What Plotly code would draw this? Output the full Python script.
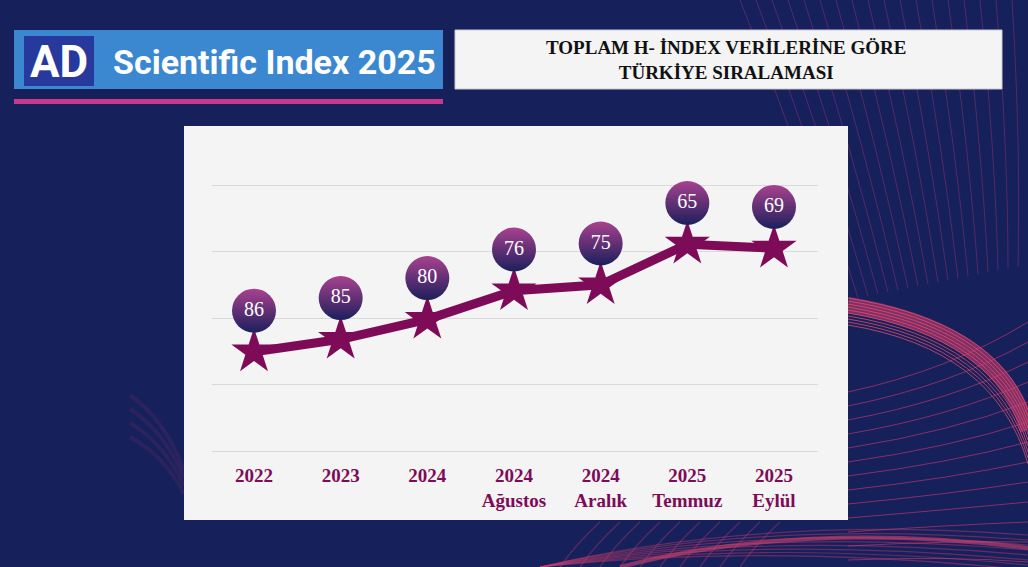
"""
AD Scientific Index 2025 - Türkiye ranking by total h-index.
Line of ranks with star markers and round rank badges above each point.
"""

import plotly.graph_objects as go

# ---------------------------------------------------------------------------
# Data
# ---------------------------------------------------------------------------
periods = ["2022", "2023", "2024", "2024<br>Ağustos", "2024<br>Aralık",
           "2025<br>Temmuz", "2025<br>Eylül"]
# vertical level of each point as drawn (gridline units, 0..4)
levels = [1.49, 1.68, 1.98, 2.41, 2.50, 3.11, 3.05]
ranks = [86, 85, 80, 76, 75, 65, 69]

W, H = 1028, 567
BG = "#16205a"
WINE = "#7e0b57"
PANEL = "#f4f4f4"

# plot area in pixels (a little padding so the 0 and 4 gridlines are drawn)
PL, PR, PT, PB = 212, 818, 179, 457
Y0_PX, Y4_PX = 451, 185           # where level 0 and level 4 sit


def px(x, y):
    """figure pixel -> paper coords (paper = plot area in plotly)"""
    return (x - PL) / (PR - PL), (PB - y) / (PB - PT)


def rect(x0, y0, x1, y1, **kw):
    a, b = px(x0, y0)
    c, d = px(x1, y1)
    return dict(type="rect", xref="paper", yref="paper", x0=a, y0=d, x1=c, y1=b, **kw)


def curve(pts, color, width, opacity):
    p = [px(x, y) for x, y in pts]
    d = f"M {p[0][0]},{p[0][1]} Q {p[1][0]},{p[1][1]} {p[2][0]},{p[2][1]}"
    return dict(type="path", xref="paper", yref="paper", path=d,
                line=dict(color=color, width=width), opacity=opacity, layer="below")


def label(text, x, y, size, family, color, xanchor="center"):
    a, b = px(x, y)
    return dict(text=text, x=a, y=b, xref="paper", yref="paper",
                xanchor=xanchor, yanchor="middle", showarrow=False,
                font=dict(family=family, size=size, color=color))


xs = list(range(len(periods)))

fig = go.Figure()

# connecting line + stars
fig.add_trace(go.Scatter(
    x=xs, y=levels,
    mode="lines+markers",
    line=dict(color=WINE, width=9),
    marker=dict(symbol="star", size=34, color=WINE, line=dict(width=0)),
    hoverinfo="skip",
    showlegend=False,
    cliponaxis=False,
))

# rank badges
fig.add_trace(go.Scatter(
    x=xs, y=[v + 0.62 for v in levels],
    mode="markers+text",
    marker=dict(symbol="circle", size=44, color="#a8428f",
                gradient=dict(type="vertical", color="#1c1f5c"),
                line=dict(width=0)),
    text=[str(r) for r in ranks],
    textposition="middle center",
    textfont=dict(family="Liberation Serif, serif", size=20, color="white"),
    hoverinfo="skip",
    showlegend=False,
    cliponaxis=False,
))

# ---------------------------------------------------------------------------
# Decoration (background waves, header, panels)
# ---------------------------------------------------------------------------
shapes = []

# thin lines falling from the top right
for i in range(18):
    shapes.append(curve([(740 + i * 16, 0), (800 + i * 13, 150), (848 + i * 10, 300 - i * 2)],
                        "#b13a78", 1, 0.4))
# wireframe lines to the right of the panel
for i in range(13):
    y0 = 392 + i * 14
    shapes.append(curve([(848, y0), (950, y0 - 22 + i * 1.5), (1028, y0 - 70 + i * 6)],
                        "#cf3c72", 1, 0.6))
# bright swoosh on the right
shapes.append(curve([(848, 305), (1000, 330), (1028, 430)], "#d63c6e", 16, 0.55))
for i in range(10):
    shapes.append(curve([(848, 298 + i * 3), (995, 322 + i * 3), (1028, 410 + i * 6)],
                        "#e8506f", 1, 0.75))
# glow along the bottom
for i in range(8):
    shapes.append(curve([(540, 567), (760, 515 + i * 4), (1028, 535 + i * 5)],
                        "#d8406f", 1.2, 0.4))
shapes.append(curve([(620, 567), (800, 520), (1028, 548)], "#e2456f", 4, 0.55))
for i in range(10):
    shapes.append(curve([(560 + i * 20, 567), (575 + i * 20, 545), (600 + i * 20, 522)],
                        "#c83a72", 1.5, 0.35))
# faint glow left of the chart panel
for i in range(4):
    shapes.append(curve([(130, 395 + i * 14), (165, 420 + i * 12), (184, 470 + i * 8)],
                        "#5b2a6a", 4, 0.3))

# header logo bar
shapes.append(rect(14, 30, 443, 89, fillcolor="#3b87d0", line=dict(width=0)))
shapes.append(rect(24, 36, 94, 86, fillcolor="#27399c", line=dict(width=0)))
shapes.append(rect(14, 99, 443, 104, fillcolor="#c53a8e", line=dict(width=0)))

# title box
shapes.append(rect(455, 30, 1002, 89, fillcolor=PANEL, line=dict(color="#c9c9d3", width=1)))

# chart panel
shapes.append(rect(184, 126, 848, 520, fillcolor=PANEL, line=dict(width=0), layer="below"))

annotations = [
    label("<b>AD</b>", 59, 62, 44, "Roboto, sans-serif", "white"),
    label("<b>Scientific Index 2025</b>", 111, 62, 34, "Roboto, sans-serif", "white",
          xanchor="left"),
    label("<b>TOPLAM H- İNDEX VERİLERİNE GÖRE<br>TÜRKİYE SIRALAMASI</b>", 726, 60, 19,
          "Liberation Serif, serif", "#111111"),
]

# x range so stars land at 254px .. 774px inside the 212..818 plot area
step = (774 - 254) / (len(periods) - 1)
x_lo = -(254 - PL) / step
x_hi = (len(periods) - 1) + (PR - 774) / step

# y range so level 0 -> 451px and level 4 -> 185px
unit = (Y0_PX - Y4_PX) / 4
y_lo = -(PB - Y0_PX) / unit
y_hi = 4 + (Y4_PX - PT) / unit

fig.update_layout(
    width=W, height=H,
    paper_bgcolor=BG,
    plot_bgcolor="rgba(0,0,0,0)",
    margin=dict(l=PL, r=W - PR, t=PT, b=H - PB, pad=0),
    shapes=shapes,
    annotations=annotations,
    showlegend=False,
)

fig.update_xaxes(
    range=[x_lo, x_hi],
    tickmode="array", tickvals=xs, ticktext=[f"<b>{p}</b>" for p in periods],
    tickfont=dict(family="Liberation Serif, serif", size=19, color=WINE),
    showgrid=False, zeroline=False, showline=False, ticks="",
    ticklabelstandoff=5,
)
fig.update_yaxes(
    range=[y_lo, y_hi], dtick=1, tick0=0,
    showgrid=True, gridcolor="#d9d9d9", gridwidth=1,
    zeroline=False, showticklabels=False, showline=False,
)

fig.write_html("out.html", config={"displayModeBar": False},
               post_script="document.body.style.margin='0';")
